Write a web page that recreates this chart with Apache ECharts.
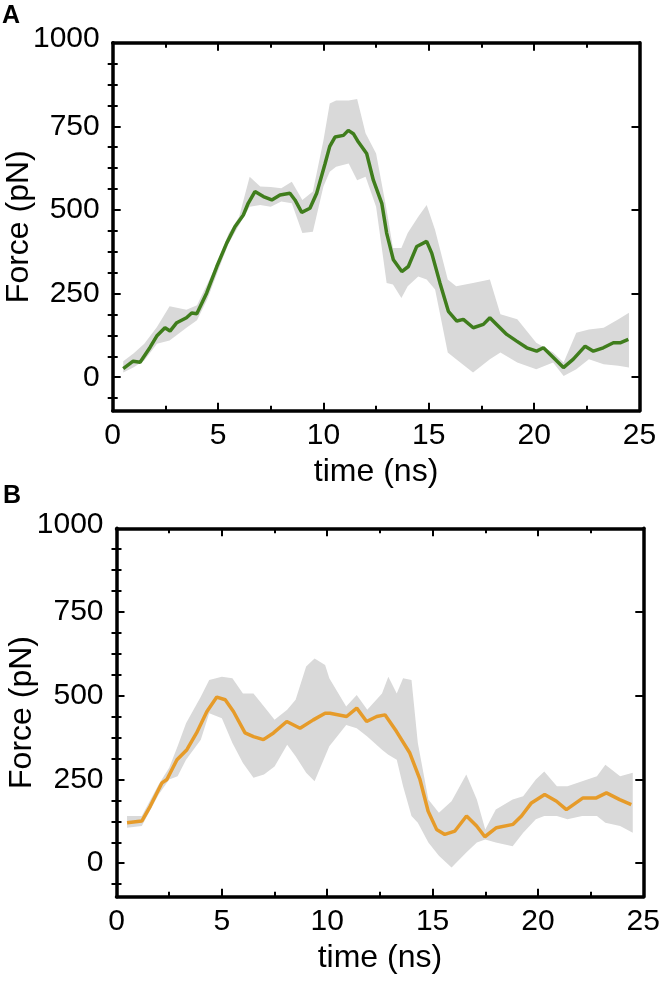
<!DOCTYPE html>
<html>
<head>
<meta charset="utf-8">
<script src="https://cdn.jsdelivr.net/npm/echarts@6/dist/echarts.min.js"></script>
<style>
html,body{margin:0;padding:0;background:#fff;}
#c{width:664px;height:981px;}
</style>
</head>
<body>
<div id="c"></div>
<script>
// ---------- Panel A (green) ----------
const timeA = [0.5,0.97,1.3,1.77,2.09,2.48,2.72,3.04,3.5,3.75,3.99,4.46,4.94,5.41,5.8,6.2,6.43,6.75,7.15,7.55,7.94,8.41,8.65,8.97,9.36,9.68,10.08,10.3,10.55,10.95,11.18,11.42,11.66,12.05,12.37,12.77,13.0,13.32,13.72,14.03,14.43,14.9,15.14,15.53,15.93,16.33,16.64,17.11,17.59,17.9,18.22,18.7,19.17,19.65,20.12,20.44,20.91,21.39,21.86,22.42,22.81,23.28,23.76,24.08,24.47];
const forceA = [26,48,45,89,123,148,138,163,178,192,190,252,331,401,450,485,520,555,540,530,545,550,530,493,505,550,639,690,718,723,738,728,703,669,589,520,431,351,316,331,391,406,371,282,197,168,173,148,158,178,158,128,108,88,78,88,59,29,54,93,78,88,103,103,113];
const bandTimeA = [0.5,1.0,1.5,2.1,2.7,3.5,4.0,4.5,5.0,5.5,6.0,6.5,7.0,7.5,8.0,8.5,9.0,9.5,10.0,10.3,10.6,11.2,11.6,12.0,12.5,13.0,13.3,13.7,14.0,14.5,14.9,15.3,15.9,16.3,17.1,17.9,18.4,19.2,20.1,20.9,21.4,22.0,22.6,23.3,24.0,24.5];
const bandLowA = [14,30,50,100,110,148,170,235,318,400,455,510,515,510,525,520,431,435,570,614,629,639,589,599,510,282,277,237,272,301,292,262,74,54,14,54,74,44,24,44,4,24,54,39,34,29];
const bandHighA = [48,72,100,150,212,202,215,280,348,430,480,599,570,569,565,584,530,555,708,818,827,827,832,729,669,500,386,386,431,480,515,440,292,272,282,292,188,173,103,74,44,133,143,148,173,193];

// ---------- Panel B (orange) ----------
const timeB = [0.5,1.2,1.6,2.16,2.39,2.87,3.34,3.8,4.29,4.76,5.16,5.55,6.1,6.5,6.97,7.45,8.08,8.71,9.34,9.9,10.13,10.92,11.4,11.87,12.35,12.74,13.29,13.92,14.4,14.79,15.19,15.58,16.06,16.61,17.09,17.48,18.03,18.82,19.22,19.69,20.32,20.88,21.35,22.14,22.77,23.25,23.88,24.43];
const forceB = [121,126,170,240,250,309,339,389,453,496,488,453,389,378,369,389,423,403,428,448,448,438,463,423,438,443,393,329,250,155,101,86,96,141,111,79,106,116,141,180,205,185,160,195,195,210,190,175];
const bandTimeB = [0.5,1.2,2.0,2.5,2.9,3.3,4.0,4.4,5.0,5.5,6.0,6.5,7.0,7.5,8.1,8.5,9.0,9.4,9.9,10.1,10.9,11.4,11.9,12.6,12.9,13.3,13.6,14.0,14.3,14.8,15.3,15.9,16.6,17.1,17.5,18.0,18.8,19.3,19.9,20.3,20.9,21.4,22.1,22.8,23.2,23.9,24.5];
const bandLowB = [106,111,205,250,260,309,369,448,433,359,299,255,265,289,354,319,270,245,319,349,413,403,378,339,324,309,230,141,121,62,22,-13,32,62,71,62,51,91,131,141,141,131,141,141,121,111,91];
const bandHighB = [141,141,235,285,349,418,497,547,557,552,507,507,468,428,458,488,587,611,592,552,468,502,458,507,557,507,552,547,359,190,151,185,265,190,101,160,190,200,250,274,230,230,245,260,294,260,270];

// ---------- Axes ----------
const xTicks = [0,5,10,15,20,25];
const yMajorTicks = [0,250,500,750,1000];
const yMinorTicks = [-62.5,62.5,125,187.5,312.5,375,437.5,562.5,625,687.5,812.5,875,937.5];
const xTitle = 'time (ns)';
const yTitle = 'Force (pN)';

const FONT = "'Liberation Sans', Arial, Helvetica, sans-serif";
const TICK_FS = 30, TITLE_FS = 32;

function pairs(t, v){ return t.map((x,i)=>[x, v[i]]); }

const grids = [
  {left:112.7, top:42.7, width:526.8, height:368, outerBoundsMode:'none', containLabel:false},
  {left:116.5, top:528.3, width:526.8, height:368.4, outerBoundsMode:'none', containLabel:false}
];

const xAxes = [], yAxes = [], series = [];
function addPanel(gi, time, force, bt, lo, hi, color){
  const xi = xAxes.length, yi = yAxes.length;
  const lineSt = {show:true, onZero:false, lineStyle:{color:'#000', width:3.5}};
  const baseX = {gridIndex:gi, type:'value', min:0, max:25, interval:5,
    splitLine:{show:false}, axisLine:lineSt,
    axisTick:{show:true, inside:true, length:8, lineStyle:{color:'#000', width:2}},
    minorTick:{show:true, splitNumber:2, length:5, lineStyle:{color:'#000', width:2}},
  };
  xAxes.push(Object.assign({}, baseX, {position:'bottom',
    axisLabel:{show:true, margin:10, color:'#000', fontSize:TICK_FS, fontFamily:FONT,
      customValues:xTicks},
    name:xTitle, nameLocation:'middle', nameGap:45,
    nameTextStyle:{color:'#000', fontSize:TITLE_FS, fontFamily:FONT}}));
  xAxes.push(Object.assign({}, baseX, {position:'top', axisLabel:{show:false}}));

  const baseY = {gridIndex:gi, type:'value', min:-100, max:1000, splitLine:{show:false}};
  yAxes.push(Object.assign({}, baseY, {position:'left', axisLine:lineSt,
    axisTick:{show:true, inside:true, length:8, customValues:yMajorTicks, lineStyle:{color:'#000', width:2}},
    axisLabel:{show:true, margin:13, color:'#000', fontSize:TICK_FS, fontFamily:FONT,
      customValues:yMajorTicks,
      formatter:(v)=> v===1000 ? '{t|1000}' : String(v),
      rich:{t:{fontSize:TICK_FS, fontFamily:FONT, color:'#000', padding:[0,0,8,0]}}},
    name:yTitle, nameLocation:'middle', nameGap:78, nameRotate:90, nameMoveOverlap:false,
    nameTextStyle:{color:'#000', fontSize:TITLE_FS, fontFamily:FONT}}));
  yAxes.push(Object.assign({}, baseY, {position:'left', axisLine:{show:false},
    axisTick:{show:true, inside:true, length:5, customValues:yMinorTicks, lineStyle:{color:'#000', width:2}},
    axisLabel:{show:false}}));
  yAxes.push(Object.assign({}, baseY, {position:'right', axisLine:lineSt,
    axisTick:{show:true, inside:true, length:8, customValues:yMajorTicks, lineStyle:{color:'#000', width:2}},
    axisLabel:{show:false}}));
  yAxes.push(Object.assign({}, baseY, {position:'right', axisLine:{show:false},
    axisTick:{show:true, inside:true, length:5, customValues:yMinorTicks, lineStyle:{color:'#000', width:2}},
    axisLabel:{show:false}}));

  series.push({type:'custom', xAxisIndex:xi, yAxisIndex:yi, silent:true, z:1,
    data:[[bt[0], lo[0]]],
    renderItem:function(params, api){
      const pts = [];
      for (let i=0;i<bt.length;i++) pts.push(api.coord([bt[i], hi[i]]));
      for (let i=bt.length-1;i>=0;i--) pts.push(api.coord([bt[i], lo[i]]));
      return {type:'polygon', shape:{points:pts}, style:{fill:'#d9d9d9', stroke:null}};
    }});
  series.push({type:'line', xAxisIndex:xi, yAxisIndex:yi, data:pairs(time, force),
    symbol:'none', lineStyle:{color:color, width:3.5}, z:5});
}

addPanel(0, timeA, forceA, bandTimeA, bandLowA, bandHighA, '#3f7d1c');
addPanel(1, timeB, forceB, bandTimeB, bandLowB, bandHighB, '#e69b29');

const chart = echarts.init(document.getElementById('c'), null, {renderer:'canvas'});
chart.setOption({
  animation:false,
  backgroundColor:'#fff',
  grid:grids,
  xAxis:xAxes,
  yAxis:yAxes,
  series:series,
  graphic:[
    {type:'text', left:2, top:4, style:{text:'A', fontSize:25, fontWeight:'bold', fontFamily:FONT, fill:'#000'}},
    {type:'text', left:3, top:484, style:{text:'B', fontSize:25, fontWeight:'bold', fontFamily:FONT, fill:'#000'}}
  ]
});
</script>
</body>
</html>
